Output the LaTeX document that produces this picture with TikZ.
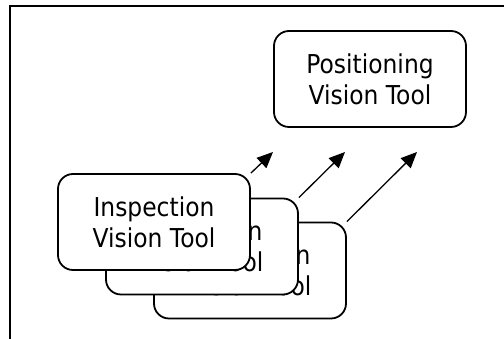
\documentclass[tikz,border=0pt]{standalone}
\usepackage{fontspec}
\setmainfont{DejaVu Sans}[FakeStretch=0.9]
\usetikzlibrary{arrows.meta}
\begin{document}
\begin{tikzpicture}[x=1pt,y=1pt,
  toolbox/.style={draw, fill=white, line width=1.8pt, rounded corners=15pt,
    minimum width=192pt, minimum height=96pt, align=center,
    font=\fontsize{26pt}{31pt}\selectfont, inner sep=0pt},
  flow/.style={line width=1.3pt, -{Triangle[length=16pt,width=14pt]}},
  frameline/.style={line width=2.4pt}]
\useasboundingbox (0,0) rectangle (504,339);
\coordinate (fb) at (10,0);
\coordinate (ft) at (10,333);
\coordinate (fr) at (504,333);
\draw[frameline] (fb) -- (ft) -- (fr);
\node[toolbox] (pos) at (370,260) {Positioning\\Vision Tool};
\node[toolbox] (back) at (250,68.5) {Inspection\\Vision Tool};
\node[toolbox] (mid) at (202,92.5) {Inspection\\Vision Tool};
\node[toolbox] (front) at (154,117) {Inspection\\Vision Tool};
\coordinate (t1) at (273,187);
\coordinate (t2) at (345,187);
\coordinate (t3) at (417,187);
\draw[flow] (front.north east) -- (t1);
\draw[flow] (mid.north east) -- (t2);
\draw[flow] (back.north east) -- (t3);
\end{tikzpicture}
\end{document}
